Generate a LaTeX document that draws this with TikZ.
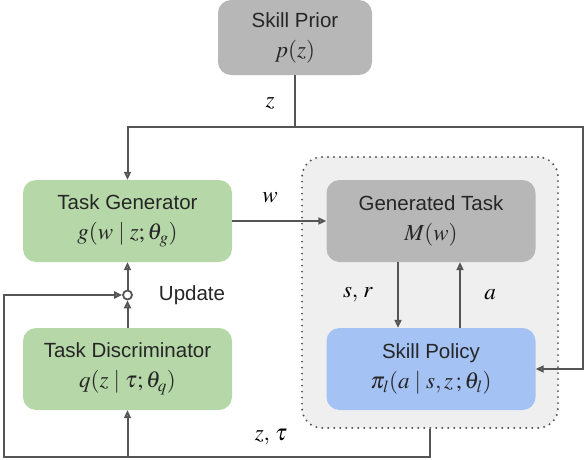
\documentclass[tikz,border=0pt]{standalone}
\usepackage{amsmath,amssymb}
\usepackage{mathptmx}
\usepackage{fontspec}
\setmainfont{Liberation Sans}
\usetikzlibrary{positioning,arrows.meta}
\definecolor{boxgreen}{HTML}{B6D7A8}
\definecolor{boxgray}{HTML}{B7B7B7}
\definecolor{boxblue}{HTML}{A4C2F4}
\definecolor{envfill}{HTML}{EFEFEF}
\definecolor{wiregray}{HTML}{555555}
\newcommand{\mth}[1]{{\fontsize{23}{26}\selectfont$#1$}}

\begin{document}
\begin{tikzpicture}[x=1pt,y=-1pt,>={Triangle[open,length=8pt,width=7pt]},
  wire/.style={draw=wiregray,line width=2pt},
  block/.style={rounded corners=13pt,minimum width=209pt,minimum height=82pt,align=center,inner sep=0pt,text=black!85,font=\fontsize{20.5}{30}\selectfont},
  lbl/.style={inner sep=1pt}]
\useasboundingbox (0,0) rectangle (586,460);
\node[fill=envfill,draw=wiregray,line width=2.2pt,dash pattern=on 0pt off 6pt,line cap=round,rounded corners=20pt,minimum width=256pt,minimum height=271pt] (env) at (430,292.5) {};
\node[block,fill=boxgray,minimum width=154pt,minimum height=75pt] (prior) at (295,37.5) {Skill Prior\\\mth{p(z)}};
\node[block,fill=boxgreen] (TG) at (127.5,221) {Task Generator\\\mth{g(w\mid z;\theta_g)}};
\node[block,fill=boxgreen] (TD) at (127.5,369) {Task Discriminator\\\mth{q(z\mid \tau;\theta_q)}};
\node[block,fill=boxgray] (GT) at (431,221) {Generated Task\\\mth{M(w)}};
\node[block,fill=boxblue] (SP) at (431,369) {Skill Policy\\\mth{\pi_l(a\mid s,z\,;\theta_l)}};
\node[circle,draw=wiregray,fill=white,line width=1.8pt,minimum size=9pt,inner sep=0pt] (upd) at (127.5,295) {};

% labels
\node[lbl] (zlbl) at (270,103) {\mth{z}};
\node[lbl] (wlbl) at (270,198) {\mth{w}};
\node[lbl] (srlbl) at (358,295) {\mth{s,\,r}};
\node[lbl] (albl) at (490,295) {\mth{a}};
\node[lbl] (ztlbl) at (271,437) {\mth{z,\,\tau}};
\node[lbl,text=black!85,font=\fontsize{20.5}{23}\selectfont] (updlbl) at (192,295) {Update};

% connectors
\draw[wire] (prior.south) -- (295,127) coordinate (split);
\draw[wire,->] (split) -| (TG.north);
\draw[wire,->] (split) -- (583,127) |- (SP.east);
\draw[wire,->] (TG.east) -- (GT.west);
\draw[wire,->] ([xshift=-33pt]GT.south) -- ([xshift=-33pt]SP.north);
\draw[wire,->] ([xshift=29pt]SP.north) -- ([xshift=29pt]GT.south);
\draw[wire,->] (TD.north) -- (upd.south);
\draw[wire,->] (upd.north) -- (TG.south);
\draw[wire,->] (env.south) -- (430,457) -| (4,295) -- (upd.west);
\draw[wire,->] (127.5,457) -- (TD.south);
\end{tikzpicture}
\end{document}
